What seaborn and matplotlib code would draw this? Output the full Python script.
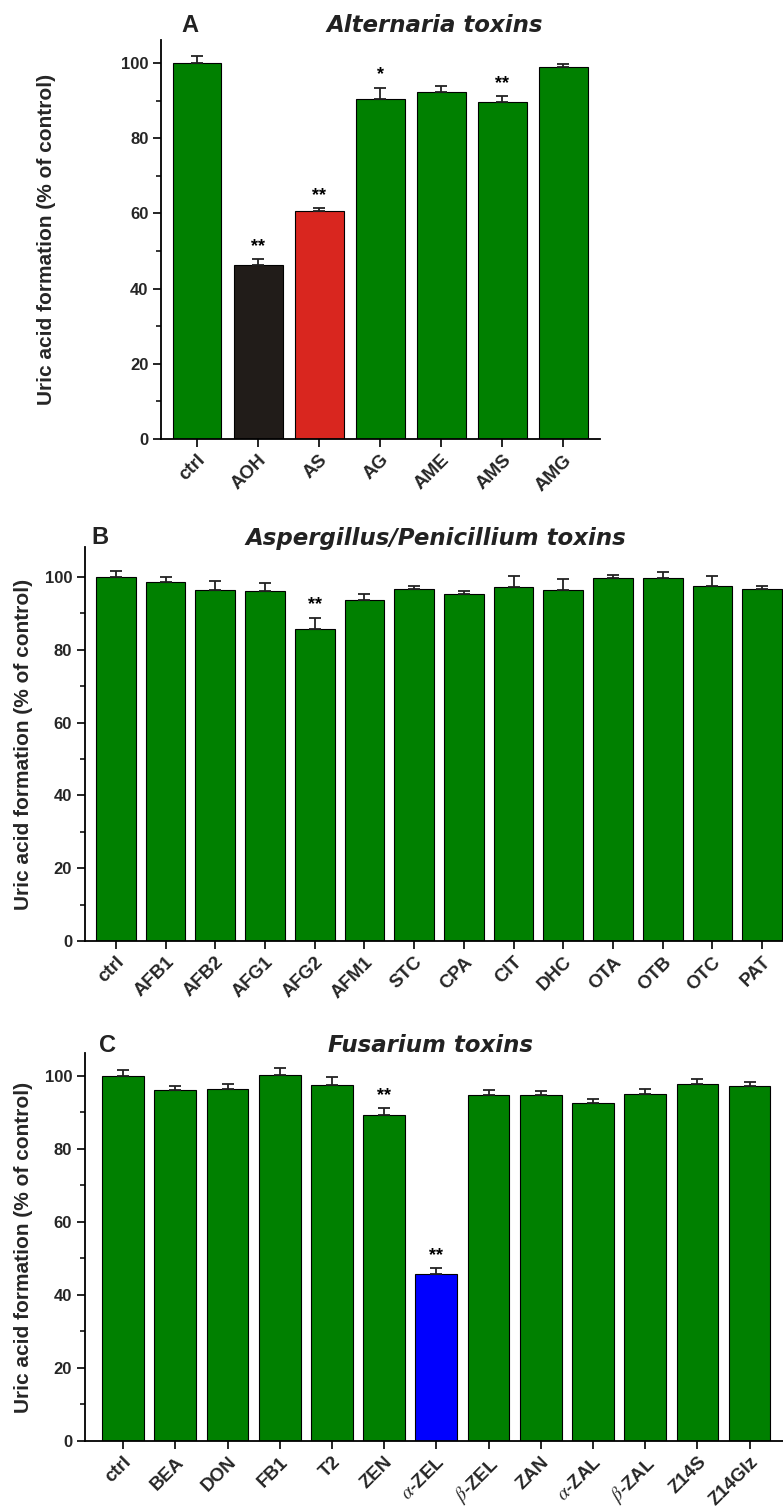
import numpy as np
import pandas as pd
import matplotlib
matplotlib.use("Agg")
import matplotlib.pyplot as plt
import seaborn as sns
from matplotlib.ticker import MultipleLocator

sns.set_theme(style="ticks")
plt.rcParams['font.family'] = ['Liberation Sans', 'DejaVu Sans']
plt.rcParams['mathtext.fontset'] = 'stix'

GREEN = "#008000"

# ---- Panel A: Alternaria toxins ----
a_cats = ["ctrl", "AOH", "AS", "AG", "AME", "AMS", "AMG"]
a_vals = [100.0, 46.2, 60.5, 90.3, 92.3, 89.7, 98.8]
a_errs = [1.9, 1.7, 0.9, 3.1, 1.6, 1.4, 1.0]
a_sig = ["", "**", "**", "*", "", "**", ""]
a_colors = [GREEN, "#211c19", "#d9261f", GREEN, GREEN, GREEN, GREEN]

# ---- Panel B: Aspergillus/Penicillium toxins ----
b_cats = ["ctrl", "AFB1", "AFB2", "AFG1", "AFG2", "AFM1", "STC", "CPA",
          "CIT", "DHC", "OTA", "OTB", "OTC", "PAT"]
b_vals = [100.0, 98.5, 96.3, 96.1, 85.7, 93.7, 96.7, 95.4, 97.3, 96.3,
          99.6, 99.7, 97.6, 96.7]
b_errs = [1.7, 1.4, 2.5, 2.3, 3.1, 1.5, 0.7, 0.7, 3.0, 3.1, 0.8, 1.6, 2.5, 0.9]
b_sig = ["", "", "", "", "**", "", "", "", "", "", "", "", "", ""]
b_colors = [GREEN] * 14

# ---- Panel C: Fusarium toxins ----
c_cats = ["ctrl", "BEA", "DON", "FB1", "T2", "ZEN", "α-ZEL", "β-ZEL", "ZAN",
          "α-ZAL", "β-ZAL", "Z14S", "Z14Glz"]
c_vals = [99.9, 96.1, 96.4, 100.2, 97.5, 89.2, 45.8, 94.7, 94.7, 92.7, 95.0,
          97.9, 97.2]
c_errs = [1.8, 1.2, 1.4, 1.9, 2.3, 1.9, 1.6, 1.4, 1.3, 1.0, 1.4, 1.3, 1.2]
c_sig = ["", "", "", "", "", "**", "**", "", "", "", "", "", ""]
c_colors = [GREEN] * 6 + ["#0000ff"] + [GREEN] * 6

W, H = 783, 1506
fig = plt.figure(figsize=(W / 100, H / 100), dpi=100)


def px_axes(left, right, top, bottom):
    return fig.add_axes([left / W, 1 - bottom / H, (right - left) / W, (bottom - top) / H])


def tick_label(s):
    return s.replace("α", r"$\alpha$").replace("β", r"$\beta$")


def panel(ax, cats, vals, errs, sig, colors, xlim, ytop, ylab_x):
    df = pd.DataFrame({"cat": cats, "val": vals})
    pal = dict(zip(cats, colors))
    sns.barplot(data=df, x="cat", y="val", hue="cat", palette=pal, legend=False,
                ax=ax, edgecolor="black", linewidth=0.8, saturation=1, width=0.8,
                errorbar=None)
    n = len(cats)
    xs = np.arange(n)
    ax.errorbar(xs, vals, yerr=[np.zeros(n), errs], fmt="none", ecolor="#222222",
                elinewidth=1.3, capsize=4, capthick=1.3, zorder=5)
    for x, v, e, s in zip(xs, vals, errs, sig):
        if s:
            ax.annotate(s, (x, v + e), xytext=(0, 3), textcoords="offset points",
                        ha="center", va="bottom", fontsize=13, fontweight="bold",
                        color="black")
    ax.set_xlim(*xlim)
    ax.set_ylim(0, ytop)
    ax.yaxis.set_major_locator(MultipleLocator(20))
    ax.yaxis.set_minor_locator(MultipleLocator(10))
    ax.set_xticks(xs)
    ax.set_xticklabels([tick_label(c) for c in cats], rotation=45, ha="right",
                       rotation_mode="anchor", fontsize=13.5, fontweight="bold")
    for lab in ax.get_yticklabels():
        lab.set_fontweight("bold")
        lab.set_fontsize(12)
    ax.tick_params(axis="both", which="major", direction="out", length=6,
                   width=1.2, color="black", pad=3)
    ax.tick_params(axis="y", which="minor", direction="out", length=3.5,
                   width=1.1, color="black")
    ax.set_xlabel("")
    ax.set_ylabel("Uric acid formation (% of control)", fontsize=15,
                  fontweight="bold")
    ax.yaxis.set_label_coords(ylab_x, 0.5)
    sns.despine(ax=ax)
    for sp in ("left", "bottom"):
        ax.spines[sp].set_linewidth(1.3)
        ax.spines[sp].set_color("black")
    ax.set_facecolor("white")


axA = px_axes(161, 600, 40, 439)
panel(axA, a_cats, a_vals, a_errs, a_sig, a_colors, (-0.59, 6.6), 106.1,
      (56 - 161) / 439)

axB = px_axes(84.5, 783, 547, 941)
panel(axB, b_cats, b_vals, b_errs, b_sig, b_colors, (-0.63, 13.42), 108.2,
      (33 - 84.5) / 698.5)

axC = px_axes(84.5, 783, 1053, 1441)
panel(axC, c_cats, c_vals, c_errs, c_sig, c_colors, (-0.74, 12.64), 106.3,
      (33 - 84.5) / 698.5)

heads = [("A", 190, 26, "Alternaria toxins", 435, 26),
         ("B", 100, 538, "Aspergillus/Penicillium toxins", 436, 538),
         ("C", 107, 1045, "Fusarium toxins", 430, 1045)]
for letter, lx, ly, title, tx, ty in heads:
    fig.text(lx / W, 1 - ly / H, letter, fontsize=17, fontweight="bold",
             ha="center", va="center", color="#222222")
    fig.text(tx / W, 1 - ty / H, title, fontsize=16.5, fontweight="bold",
             fontstyle="italic", ha="center", va="center", color="#222222",
             family=["DejaVu Sans"])

fig.savefig("out.png", dpi=100, facecolor="white")
